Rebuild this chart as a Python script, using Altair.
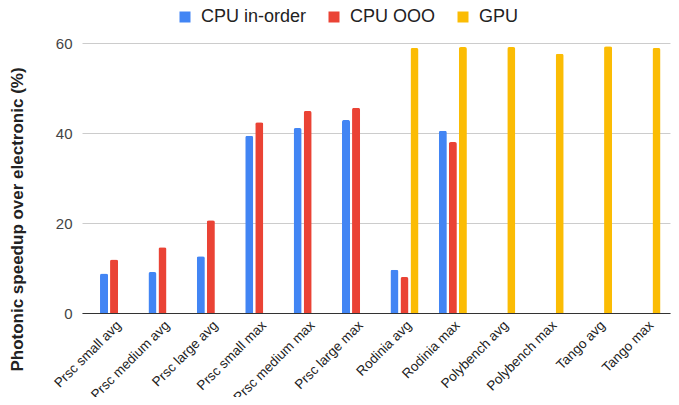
import altair as alt
import pandas as pd

categories = ["Prsc small avg", "Prsc medium avg", "Prsc large avg",
              "Prsc small max", "Prsc medium max", "Prsc large max",
              "Rodinia avg", "Rodinia max", "Polybench avg", "Polybench max",
              "Tango avg", "Tango max"]
series = ["CPU in-order", "CPU OOO", "GPU"]
colors = ["#4285F4", "#EA4335", "#FBBC04"]

cpu_inorder = [8.8, 9.1, 12.6, 39.4, 41.1, 42.9, 9.6, 40.5, None, None, None, None]
cpu_ooo = [11.9, 14.6, 20.6, 42.4, 44.9, 45.6, 8.0, 38.0, None, None, None, None]
gpu = [None, None, None, None, None, None, 58.9, 59.1, 59.1, 57.6, 59.3, 58.9]

rows = []
for s, vals in zip(series, [cpu_inorder, cpu_ooo, gpu]):
    for c, v in zip(categories, vals):
        if v is not None:
            rows.append({"category": c, "series": s, "value": v})
df = pd.DataFrame(rows)

font = "Arial, Liberation Sans, sans-serif"

chart = alt.Chart(df).mark_bar(
    cornerRadiusTopLeft=2, cornerRadiusTopRight=2
).encode(
    x=alt.X("category:N", sort=categories,
            scale=alt.Scale(paddingInner=0.42, paddingOuter=0.2845, align=0.654),
            axis=alt.Axis(title=None, labelAngle=-45, labelFontSize=13.5, labelColor="#222",
                          labelFont=font, ticks=False, domainColor="#333", domainWidth=1,
                          labelPadding=5, grid=False)),
    xOffset=alt.XOffset("series:N", scale=alt.Scale(domain=series, paddingInner=0.2, paddingOuter=0)),
    y=alt.Y("value:Q", scale=alt.Scale(domain=[0, 60], nice=False),
            axis=alt.Axis(title="Photonic speedup over electronic (%)", values=[0, 20, 40, 60],
                          labelFontSize=15, labelColor="#444", labelFont=font, labelPadding=10,
                          ticks=False, domain=False, gridColor="#ccc",
                          titleFont=font, titleFontSize=17, titleFontWeight="bold",
                          titleColor="#222", titleX=-65, titleY=176, titleAlign="center",
                          titleBaseline="middle", titleAngle=270)),
    color=alt.Color("series:N", scale=alt.Scale(domain=series, range=colors),
                    legend=alt.Legend(orient="none", legendX=94, legendY=-35,
                                      direction="horizontal", title=None,
                                      symbolType="square", symbolSize=121,
                                      symbolStrokeWidth=0, labelFontSize=18,
                                      labelColor="#222", labelFont=font,
                                      labelOffset=7, columnPadding=18, padding=0,
                                      gridAlign="none"))
).properties(
    width=588, height=270,
    autosize=alt.AutoSizeParams(type="none"),
    padding={"left": 74, "top": 35, "right": 1, "bottom": 84}
).configure_view(stroke=None)

chart.save("out.html", embed_options={"renderer": "svg", "actions": False})
